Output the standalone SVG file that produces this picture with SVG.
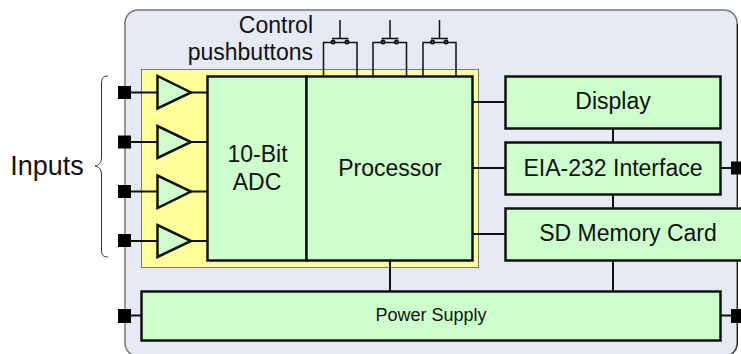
<svg xmlns="http://www.w3.org/2000/svg" width="741" height="354" viewBox="0 0 741 354">
<style>
text{font-family:"Liberation Sans",Arial,sans-serif;fill:#111;text-anchor:middle}
.b{fill:#ccffcc;stroke:#111;stroke-width:2.5}
.c{fill:none;stroke:#111;stroke-width:2}
.t{fill:none;stroke:#111;stroke-width:1.5}
.k{fill:#e6eaf5;stroke:#111;stroke-width:2}
.p{fill:#000}
.a{fill:#ccffcc;stroke:#111;stroke-width:2.5}
.f{font-size:23px}
</style>
<g id="enclosure">
<rect x="125" y="10" width="612" height="346" rx="13" fill="#e6eaf5" stroke="#777" stroke-width="1.5"/>
<path fill="none" stroke="#222" stroke-width="1" d="M737.500 24V342Q737.500 350 732 354"/>
</g>
<rect id="analog" x="141.500" y="69.500" width="337" height="198" fill="#ffff99" stroke="#777" stroke-width="1"/>
<g id="connectors">
<path class="c" d="M125 92.500H157M125 142H157M125 191.500H157M125 241H157M191 92.500H207M191 142H207M191 191.500H207M191 241H207"/>
<path class="c" d="M472 102H505M472 168H505M472 234H505M613 129V142M613 194V209M613 261V291M390 261V291M125 315.500H141M720 168H737M720 315.500H737"/>
<path class="t" d="M323.500 76V42.500H347M357 76V42.500H333M373 76V42.500H397M406.500 76V42.500H383M423 76V42.500H447M456 76V42.500H432"/>
<path class="t" d="M332 38.500H348.500M340 38.500V20M381.500 38.500H398.500M390 38.500V20M431 38.500H448M439.500 38.500V20"/>
<path fill="none" stroke="#333" stroke-width="1" d="M108 76C103 76 101.500 78 101.500 84V157C101.500 163 99 165 95 166C99 167 101.500 169 101.500 175V249C101.500 255 103 257 108 257"/>
</g>
<g id="contacts">
<circle class="k" cx="333" cy="42" r="1.500"/><circle class="k" cx="347" cy="42" r="1.500"/>
<circle class="k" cx="383" cy="42" r="1.500"/><circle class="k" cx="396.500" cy="42" r="1.500"/>
<circle class="k" cx="432.500" cy="42" r="1.500"/><circle class="k" cx="446" cy="42" r="1.500"/>
</g>
<g id="ports">
<rect class="p" x="118" y="86" width="13" height="13"/>
<rect class="p" x="118" y="135.500" width="13" height="13"/>
<rect class="p" x="118" y="185" width="13" height="13"/>
<rect class="p" x="118" y="234" width="13" height="13"/>
<rect class="p" x="118" y="309" width="13" height="14"/>
<rect class="p" x="731" y="161.500" width="10" height="13"/>
<rect class="p" x="731" y="309" width="10" height="14"/>
</g>
<g id="amp1"><path class="a" d="M157.500 76V108.500L191 92.500Z"/></g>
<g id="amp2"><path class="a" d="M157.500 126V158L191 142Z"/></g>
<g id="amp3"><path class="a" d="M157.500 175.500V208L191 191.500Z"/></g>
<g id="amp4"><path class="a" d="M157.500 225V257L191 241Z"/></g>
<g id="adc"><rect class="b" x="207.500" y="76.500" width="99" height="184"/><text class="f" x="257.500" y="162">10-Bit</text><text class="f" x="257" y="190">ADC</text></g>
<g id="processor"><rect class="b" x="306.500" y="76.500" width="166" height="184"/><text class="f" x="390" y="176">Processor</text></g>
<g id="display"><rect class="b" x="505.500" y="76.500" width="215" height="52"/><text class="f" x="613" y="109">Display</text></g>
<g id="eia232"><rect class="b" x="505.500" y="142.500" width="215" height="52"/><text class="f" x="613" y="176">EIA-232 Interface</text></g>
<g id="sdcard"><rect class="b" x="505.500" y="208.500" width="240" height="52"/><text class="f" x="628" y="241">SD Memory Card</text></g>
<g id="power"><rect class="b" x="141.500" y="291.500" width="579" height="49"/><text x="431" y="321" font-size="18">Power Supply</text></g>
<text class="f" x="313" y="33" style="text-anchor:end">Control</text>
<text class="f" x="313" y="60" style="text-anchor:end">pushbuttons</text>
<text x="47" y="175" font-size="27">Inputs</text>
</svg>
